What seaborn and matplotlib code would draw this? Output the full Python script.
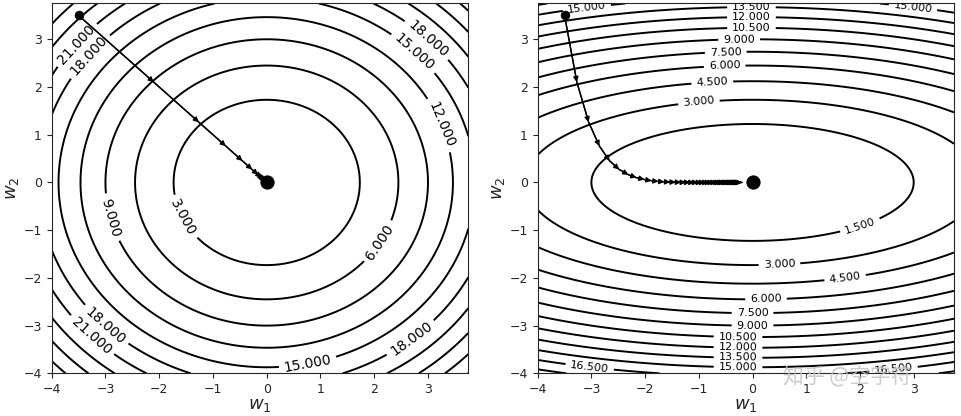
import numpy as np
import matplotlib
matplotlib.use("Agg")
import matplotlib.pyplot as plt
import seaborn as sns
import pandas as pd

sns.set_style("ticks")
plt.rcParams['font.family'] = ['DejaVu Sans', 'Noto Sans CJK SC']
plt.rcParams['axes.linewidth'] = 0.8

# ---- data ----
grid_lo, grid_hi = -4.0, 3.75
left_coef = (1.0, 1.0)          # f = a*w1^2 + b*w2^2
right_coef = (1.0 / 6.0, 1.0)
left_levels = [3, 6, 9, 12, 15, 18, 21, 24, 27, 30]
right_levels = [1.5, 3, 4.5, 6, 7.5, 9, 10.5, 12, 13.5, 15, 16.5, 18]

left_w1 = [-3.5, -2.1, -1.26, -0.76, -0.45, -0.27, -0.16, -0.10, -0.06, -0.035, -0.02, -0.012]
left_w2 = [3.5, 2.1, 1.26, 0.76, 0.45, 0.27, 0.16, 0.10, 0.06, 0.035, 0.02, 0.012]

right_w1 = [-3.5, -3.27, -3.05, -2.85, -2.66, -2.48, -2.31, -2.16, -2.01, -1.88,
            -1.75, -1.64, -1.53, -1.43, -1.33, -1.24, -1.16, -1.08, -1.01, -0.94,
            -0.88, -0.82, -0.77, -0.72, -0.67, -0.62, -0.58, -0.54, -0.51, -0.47,
            -0.44, -0.41, -0.38, -0.36, -0.34, -0.31, -0.29, -0.27, -0.25, -0.24,
            -0.22, -0.21, -0.19]
right_w2 = [3.5, 2.1, 1.26, 0.76, 0.45, 0.27, 0.16, 0.10, 0.06, 0.035,
            0.02, 0.013, 0.008, 0.005, 0.003, 0.002, 0.001, 0.0, 0.0, 0.0,
            0.0, 0.0, 0.0, 0.0, 0.0, 0.0, 0.0, 0.0, 0.0, 0.0,
            0.0, 0.0, 0.0, 0.0, 0.0, 0.0, 0.0, 0.0, 0.0, 0.0,
            0.0, 0.0, 0.0]

left_label_pos = [(-3.56, 2.91), (-3.35, 2.70), (3.03, 3.05), (2.78, 2.77),
                  (3.28, 1.23), (-2.88, -0.73), (-1.54, -0.73), (2.10, -1.25),
                  (-3.0, -3.0), (-3.28, -3.24), (2.69, -3.28), (0.76, -3.77)]
right_label_pos = [(-3.09, 3.71), (-0.02, 3.69), (-0.02, 3.48), (-0.02, 3.26),
                   (-0.25, 3.03), (-0.5, 2.75), (-0.52, 2.47), (-0.75, 2.12),
                   (-1.0, 1.70), (2.99, 3.70), (2.0, -0.90), (0.5, -1.70),
                   (1.72, -1.97), (0.25, -2.42), (0.0, -2.73), (0.0, -3.0),
                   (-0.27, -3.24), (-0.27, -3.45), (-0.27, -3.65), (-0.27, -3.85),
                   (-3.03, -3.85), (2.62, -3.87)]

fig = plt.figure(figsize=(9.61, 4.16), dpi=100)
ax1 = fig.add_axes([0.0538, 0.1026, 0.4335, 0.889])
ax2 = fig.add_axes([0.5595, 0.1026, 0.4332, 0.889])

g = np.linspace(grid_lo, grid_hi, 300)
W1, W2 = np.meshgrid(g, g)


def panel(ax, coef, levels, xs, ys, label_pos, fs):
    Z = coef[0] * W1 ** 2 + coef[1] * W2 ** 2
    cs = ax.contour(W1, W2, Z, levels=levels, colors='k', linewidths=1.4)
    ax.clabel(cs, fmt='%.3f', fontsize=fs, inline=True, manual=label_pos)
    df = pd.DataFrame({'w1': xs, 'w2': ys})
    sns.lineplot(data=df, x='w1', y='w2', sort=False, color='k', lw=1.0, ax=ax)
    for i in range(len(xs) - 1):
        ax.annotate('', xy=(xs[i + 1], ys[i + 1]), xytext=(xs[i], ys[i]),
                    arrowprops=dict(arrowstyle='-|>', color='k', lw=1.0,
                                    mutation_scale=7.5, shrinkA=0, shrinkB=0))
    sns.scatterplot(x=[xs[0]], y=[ys[0]], color='k', s=40, ax=ax, zorder=5, edgecolor='k')
    sns.scatterplot(x=[0.0], y=[0.0], color='k', s=90, ax=ax, zorder=5, edgecolor='k')
    ax.set_xlim(grid_lo, grid_hi)
    ax.set_ylim(grid_lo, grid_hi)
    ax.set_xticks([-4, -3, -2, -1, 0, 1, 2, 3])
    ax.set_yticks([-4, -3, -2, -1, 0, 1, 2, 3])
    ax.tick_params(labelsize=9, length=3.5, width=0.8)
    ax.set_xlabel('$w_1$', fontsize=13, labelpad=0)
    ax.set_ylabel('$w_2$', fontsize=13, labelpad=2)
    for s in ax.spines.values():
        s.set_visible(True)


panel(ax1, left_coef, left_levels, left_w1, left_w2, left_label_pos, 10)
panel(ax2, right_coef, right_levels, right_w1, right_w2, right_label_pos, 8)

fig.text(0.882, 0.092, '知乎 @空字符', fontsize=15, color='#c4c4c4', alpha=0.85,
         ha='center', va='center', family=['Noto Sans CJK SC', 'DejaVu Sans'])

fig.savefig('out.png', dpi=100)
